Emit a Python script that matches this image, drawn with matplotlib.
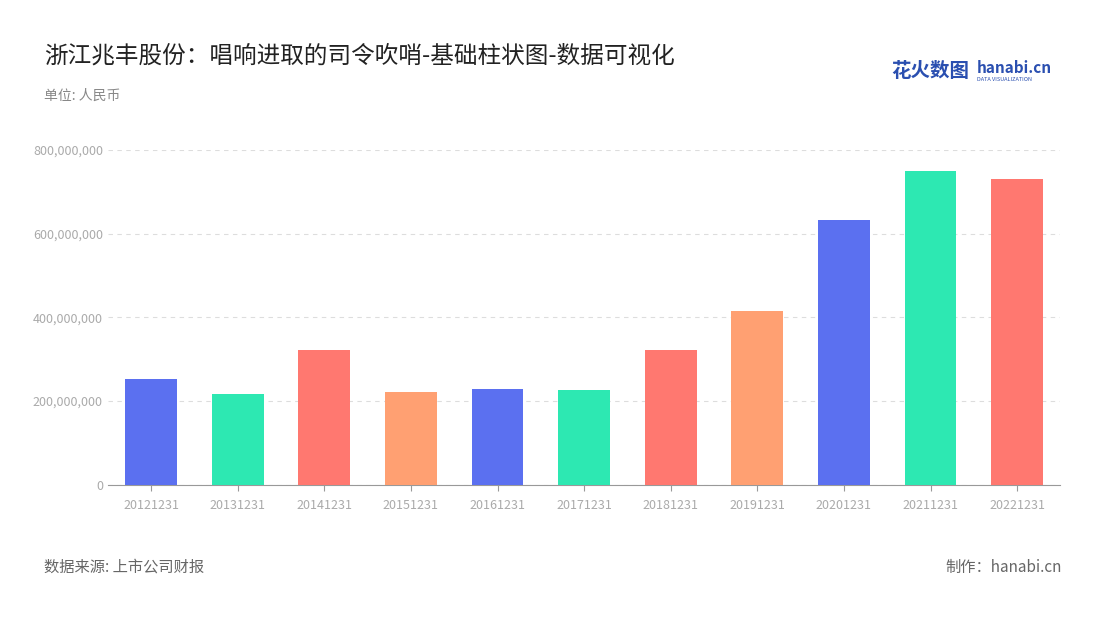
import matplotlib.pyplot as plt
from matplotlib.ticker import FuncFormatter

plt.rcParams['font.family'] = ['Noto Sans CJK SC', 'DejaVu Sans']

# 数据
dates = ['20121231', '20131231', '20141231', '20151231', '20161231', '20171231',
         '20181231', '20191231', '20201231', '20211231', '20221231']
values = [253e6, 217e6, 322e6, 222e6, 229e6, 227e6, 322e6, 415e6, 633e6, 750e6, 731e6]
palette = ['#5b70f0', '#2de8b2', '#ff7870', '#ffa072']
colors = [palette[i % 4] for i in range(len(dates))]

fig = plt.figure(figsize=(11, 6.2), dpi=100)
ax = fig.add_axes([0.098, 0.218, 0.866, 0.54])

ax.bar(range(len(dates)), values, width=0.6, color=colors, zorder=3)
ax.set_xlim(-0.5, len(dates) - 0.5)
ax.set_ylim(0, 800e6)
ax.set_yticks([0, 200e6, 400e6, 600e6, 800e6])
ax.yaxis.set_major_formatter(FuncFormatter(lambda v, p: f"{int(v):,}"))
ax.set_xticks(range(len(dates)))
ax.set_xticklabels(dates)
ax.tick_params(axis='both', colors='#aaaaaa', labelsize=9, length=0)
ax.tick_params(axis='x', pad=6, length=4, color='#999999')
ax.grid(axis='y', linestyle=(0, (4, 4)), color='#dddddd', zorder=0)
for s in ['top', 'right', 'left']:
    ax.spines[s].set_visible(False)
ax.spines['bottom'].set_color('#999999')

fig.text(0.04, 0.91, '浙江兆丰股份：唱响进取的司令吹哨-基础柱状图-数据可视化',
         fontsize=17, color='#222222', va='center')
fig.text(0.04, 0.845, '单位: 人民币', fontsize=10, color='#888888', va='center')
fig.text(0.04, 0.085, '数据来源: 上市公司财报', fontsize=11, color='#666666', va='center')
fig.text(0.965, 0.085, '制作：hanabi.cn', fontsize=11, color='#666666', va='center', ha='right')
fig.text(0.81, 0.885, '花火数图', fontsize=14, color='#2a4fb0', va='center', fontweight='bold')
fig.text(0.888, 0.89, 'hanabi.cn', fontsize=11, color='#2a4fb0', va='center', fontweight='bold')
fig.text(0.888, 0.872, 'DATA VISUALIZATION', fontsize=4, color='#2a4fb0', va='center')

fig.savefig('out.png', dpi=100)
